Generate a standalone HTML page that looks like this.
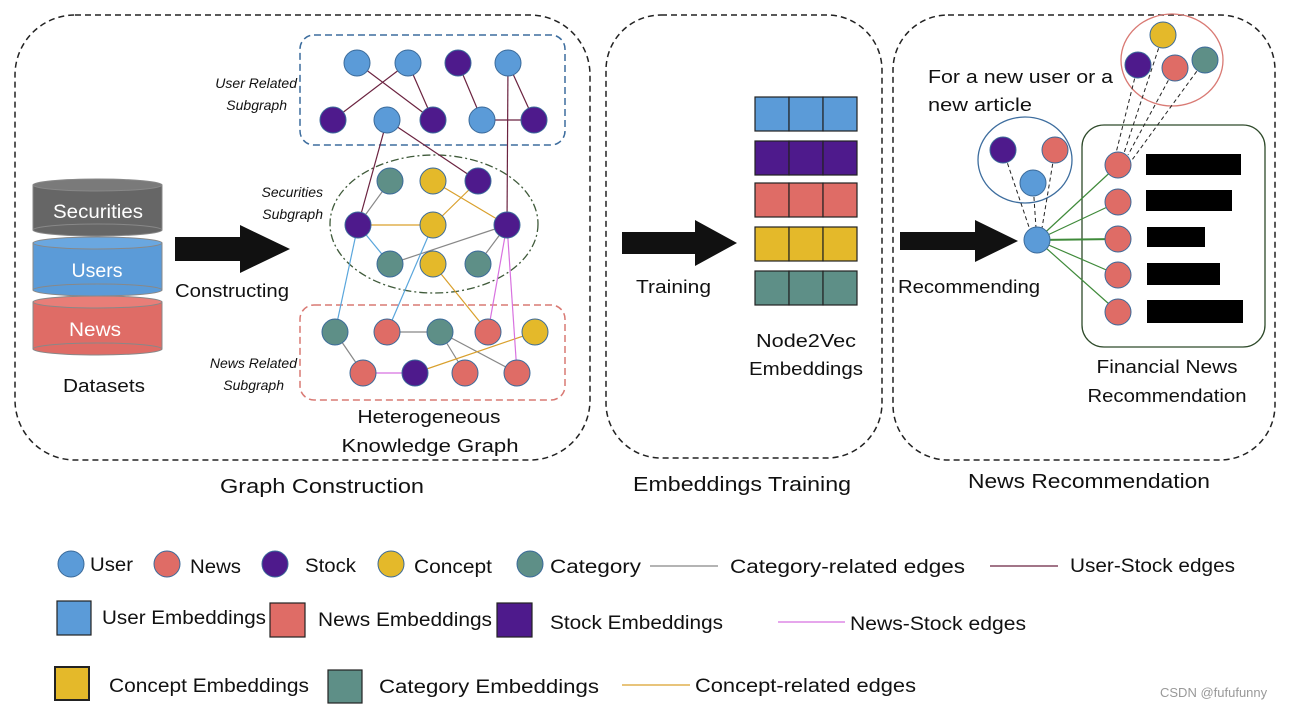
<!DOCTYPE html>
<html><head><meta charset="utf-8"><style>
body{margin:0;background:#fff}
svg{display:block}
text{font-family:"Liberation Sans","DejaVu Sans",sans-serif;fill:#111}
.it{font-style:italic;font-size:14px}
</style></head><body>
<svg width="1293" height="709" viewBox="0 0 1293 709" xmlns="http://www.w3.org/2000/svg">
<g fill="none" stroke="#222" stroke-width="1.5" stroke-dasharray="6,4">
<rect x="15" y="15" width="575" height="445" rx="60"/>
<rect x="606" y="15" width="276" height="443" rx="55"/>
<rect x="893" y="15" width="382" height="445" rx="55"/>
</g>
<rect x="300" y="35" width="265" height="110" rx="14" fill="none" stroke="#3d6d9e" stroke-width="1.5" stroke-dasharray="7,4"/>
<ellipse cx="434" cy="224" rx="104" ry="69" fill="none" stroke="#3f5a3a" stroke-width="1.3" stroke-dasharray="8,3,2,3"/>
<rect x="300" y="305" width="265" height="95" rx="14" fill="none" stroke="#d97a74" stroke-width="1.5" stroke-dasharray="7,4"/>

<g stroke="#888" stroke-width="1">
<rect x="33" y="185" width="129" height="45" fill="#666"/><ellipse cx="97.5" cy="185" rx="64.5" ry="6" fill="#7a7a7a"/><ellipse cx="97.5" cy="230" rx="64.5" ry="6" fill="#666"/>
<rect x="33" y="243" width="129" height="47" fill="#5b9bd8"/><ellipse cx="97.5" cy="243" rx="64.5" ry="6" fill="#6aa7e0"/><ellipse cx="97.5" cy="290" rx="64.5" ry="6" fill="#5b9bd8"/>
<rect x="33" y="302" width="129" height="47" fill="#df6c66"/><ellipse cx="97.5" cy="302" rx="64.5" ry="6" fill="#e87e78"/><ellipse cx="97.5" cy="349" rx="64.5" ry="6" fill="#df6c66"/>
</g>
<g lengthAdjust="spacingAndGlyphs">
<text x="98" y="218" font-size="19" text-anchor="middle" style="fill:#fff" textLength="90" lengthAdjust="spacingAndGlyphs">Securities</text>
<text x="97" y="277" font-size="19" text-anchor="middle" style="fill:#fff" textLength="51" lengthAdjust="spacingAndGlyphs">Users</text>
<text x="95" y="336" font-size="19" text-anchor="middle" style="fill:#fff" textLength="52" lengthAdjust="spacingAndGlyphs">News</text>
<text x="104" y="392" font-size="18" text-anchor="middle" textLength="82" lengthAdjust="spacingAndGlyphs">Datasets</text>
</g>

<g fill="#111">
<polygon points="175,237 240,237 240,225 290,249 240,273 240,261 175,261"/>
<polygon points="622,232 695,232 695,220 737,243 695,266 695,254 622,254"/>
<polygon points="900,232 975,232 975,220 1018,241 975,262 975,250 900,250"/>
</g>
<text x="175" y="297" font-size="18" textLength="114" lengthAdjust="spacingAndGlyphs">Constructing</text>
<text x="636" y="293" font-size="18" textLength="75" lengthAdjust="spacingAndGlyphs">Training</text>
<text x="898" y="293" font-size="18" textLength="142" lengthAdjust="spacingAndGlyphs">Recommending</text>

<text class="it" x="297" y="88" text-anchor="end">User Related</text>
<text class="it" x="287" y="110" text-anchor="end">Subgraph</text>
<text class="it" x="323" y="197" text-anchor="end">Securities</text>
<text class="it" x="323" y="219" text-anchor="end">Subgraph</text>
<text class="it" x="297" y="368" text-anchor="end">News Related</text>
<text class="it" x="284" y="390" text-anchor="end">Subgraph</text>
<text x="429" y="423" font-size="18" text-anchor="middle" textLength="143" lengthAdjust="spacingAndGlyphs">Heterogeneous</text>
<text x="430" y="452" font-size="18" text-anchor="middle" textLength="177" lengthAdjust="spacingAndGlyphs">Knowledge Graph</text>

<g stroke-width="1.2" fill="none">
<g stroke="#6b2340">
<line x1="408" y1="63" x2="333" y2="120"/><line x1="357" y1="63" x2="433" y2="120"/>
<line x1="408" y1="63" x2="433" y2="120"/><line x1="458" y1="63" x2="482" y2="120"/>
<line x1="508" y1="63" x2="507" y2="225"/><line x1="508" y1="63" x2="534" y2="120"/>
<line x1="482" y1="120" x2="534" y2="120"/><line x1="387" y1="120" x2="358" y2="225"/>
<line x1="387" y1="120" x2="478" y2="181"/>
</g>
<g stroke="#888"><line x1="358" y1="225" x2="390" y2="181"/><line x1="390" y1="264" x2="507" y2="225"/><line x1="478" y1="264" x2="507" y2="225"/>
<line x1="387" y1="332" x2="440" y2="332"/><line x1="335" y1="332" x2="363" y2="373"/><line x1="440" y1="332" x2="465" y2="373"/><line x1="440" y1="332" x2="517" y2="373"/></g>
<g stroke="#d9a02c"><line x1="358" y1="225" x2="433" y2="225"/><line x1="433" y1="225" x2="478" y2="181"/><line x1="433" y1="181" x2="507" y2="225"/><line x1="433" y1="264" x2="488" y2="332"/><line x1="415" y1="373" x2="535" y2="332"/></g>
<g stroke="#5aa6dc"><line x1="358" y1="225" x2="390" y2="264"/><line x1="358" y1="225" x2="335" y2="332"/><line x1="433" y1="225" x2="387" y2="332"/></g>
<g stroke="#d872e0"><line x1="507" y1="225" x2="488" y2="332"/><line x1="507" y1="225" x2="517" y2="373"/><line x1="363" y1="373" x2="415" y2="373"/></g>
</g>

<g stroke="#3a6a9a" stroke-width="1">
<g fill="#5b9bd8"><circle cx="357" cy="63" r="13"/><circle cx="408" cy="63" r="13"/><circle cx="508" cy="63" r="13"/><circle cx="387" cy="120" r="13"/><circle cx="482" cy="120" r="13"/></g>
<g fill="#4e1a8c"><circle cx="458" cy="63" r="13"/><circle cx="333" cy="120" r="13"/><circle cx="433" cy="120" r="13"/><circle cx="534" cy="120" r="13"/>
<circle cx="478" cy="181" r="13"/><circle cx="358" cy="225" r="13"/><circle cx="507" cy="225" r="13"/><circle cx="415" cy="373" r="13"/></g>
<g fill="#5e8f87"><circle cx="390" cy="181" r="13"/><circle cx="390" cy="264" r="13"/><circle cx="478" cy="264" r="13"/><circle cx="335" cy="332" r="13"/><circle cx="440" cy="332" r="13"/></g>
<g fill="#e4b92a"><circle cx="433" cy="181" r="13"/><circle cx="433" cy="225" r="13"/><circle cx="433" cy="264" r="13"/><circle cx="535" cy="332" r="13"/></g>
<g fill="#df6c66"><circle cx="387" cy="332" r="13"/><circle cx="488" cy="332" r="13"/><circle cx="363" cy="373" r="13"/><circle cx="465" cy="373" r="13"/><circle cx="517" cy="373" r="13"/></g>
</g>

<g stroke="#222" stroke-width="1.2">
<g fill="#5b9bd8"><rect x="755" y="97" width="34" height="34"/><rect x="789" y="97" width="34" height="34"/><rect x="823" y="97" width="34" height="34"/></g>
<g fill="#4e1a8c"><rect x="755" y="141" width="34" height="34"/><rect x="789" y="141" width="34" height="34"/><rect x="823" y="141" width="34" height="34"/></g>
<g fill="#df6c66"><rect x="755" y="183" width="34" height="34"/><rect x="789" y="183" width="34" height="34"/><rect x="823" y="183" width="34" height="34"/></g>
<g fill="#e4b92a"><rect x="755" y="227" width="34" height="34"/><rect x="789" y="227" width="34" height="34"/><rect x="823" y="227" width="34" height="34"/></g>
<g fill="#5e8f87"><rect x="755" y="271" width="34" height="34"/><rect x="789" y="271" width="34" height="34"/><rect x="823" y="271" width="34" height="34"/></g>
</g>
<text x="806" y="347" font-size="18" text-anchor="middle" textLength="100" lengthAdjust="spacingAndGlyphs">Node2Vec</text>
<text x="806" y="375" font-size="18" text-anchor="middle" textLength="114" lengthAdjust="spacingAndGlyphs">Embeddings</text>

<text x="928" y="83" font-size="18" textLength="185" lengthAdjust="spacingAndGlyphs">For a new user or a</text>
<text x="928" y="111" font-size="18" textLength="104" lengthAdjust="spacingAndGlyphs">new article</text>
<ellipse cx="1172" cy="60" rx="51" ry="46" fill="none" stroke="#d97a74" stroke-width="1.3"/>
<ellipse cx="1025" cy="160" rx="47" ry="43" fill="none" stroke="#3d6d9e" stroke-width="1.3"/>
<rect x="1082" y="125" width="183" height="222" rx="22" fill="none" stroke="#2e4a2a" stroke-width="1.3"/>
<g stroke="#222" stroke-width="1" stroke-dasharray="4,3">
<line x1="1003" y1="150" x2="1030" y2="230"/><line x1="1033" y1="183" x2="1036" y2="228"/><line x1="1055" y1="150" x2="1042" y2="228"/>
<line x1="1163" y1="35" x2="1124" y2="153"/><line x1="1138" y1="65" x2="1116" y2="153"/><line x1="1175" y1="68" x2="1128" y2="155"/><line x1="1205" y1="60" x2="1132" y2="160"/>
</g>
<g stroke="#3f8a3a" stroke-width="1.2">
<line x1="1037" y1="240" x2="1118" y2="165"/><line x1="1037" y1="240" x2="1118" y2="202"/><line x1="1037" y1="240" x2="1118" y2="239" stroke-width="2"/><line x1="1037" y1="240" x2="1118" y2="275"/><line x1="1037" y1="240" x2="1118" y2="312"/>
</g>
<g stroke="#3a6a9a" stroke-width="1">
<circle cx="1163" cy="35" r="13" fill="#e4b92a"/><circle cx="1138" cy="65" r="13" fill="#4e1a8c"/><circle cx="1175" cy="68" r="13" fill="#df6c66"/><circle cx="1205" cy="60" r="13" fill="#5e8f87"/>
<circle cx="1003" cy="150" r="13" fill="#4e1a8c"/><circle cx="1055" cy="150" r="13" fill="#df6c66"/><circle cx="1033" cy="183" r="13" fill="#5b9bd8"/>
<circle cx="1037" cy="240" r="13" fill="#5b9bd8"/>
<g fill="#df6c66"><circle cx="1118" cy="165" r="13"/><circle cx="1118" cy="202" r="13"/><circle cx="1118" cy="239" r="13"/><circle cx="1118" cy="275" r="13"/><circle cx="1118" cy="312" r="13"/></g>
</g>
<g fill="#000"><rect x="1146" y="154" width="95" height="21"/><rect x="1146" y="190" width="86" height="21"/><rect x="1147" y="227" width="58" height="20"/><rect x="1147" y="263" width="73" height="22"/><rect x="1147" y="300" width="96" height="23"/></g>
<text x="1167" y="373" font-size="18" text-anchor="middle" textLength="141" lengthAdjust="spacingAndGlyphs">Financial News</text>
<text x="1167" y="402" font-size="18" text-anchor="middle" textLength="159" lengthAdjust="spacingAndGlyphs">Recommendation</text>

<text x="322" y="493" font-size="20" text-anchor="middle" textLength="204" lengthAdjust="spacingAndGlyphs">Graph Construction</text>
<text x="742" y="491" font-size="20" text-anchor="middle" textLength="218" lengthAdjust="spacingAndGlyphs">Embeddings Training</text>
<text x="1089" y="488" font-size="20" text-anchor="middle" textLength="242" lengthAdjust="spacingAndGlyphs">News Recommendation</text>

<g stroke="#3a6a9a" stroke-width="1">
<circle cx="71" cy="564" r="13" fill="#5b9bd8"/><circle cx="167" cy="564" r="13" fill="#df6c66"/><circle cx="275" cy="564" r="13" fill="#4e1a8c"/><circle cx="391" cy="564" r="13" fill="#e4b92a"/><circle cx="530" cy="564" r="13" fill="#5e8f87"/>
</g>
<g font-size="19">
<text x="90" y="571" textLength="43" lengthAdjust="spacingAndGlyphs">User</text>
<text x="190" y="573" textLength="51" lengthAdjust="spacingAndGlyphs">News</text>
<text x="305" y="572" textLength="51" lengthAdjust="spacingAndGlyphs">Stock</text>
<text x="414" y="573" textLength="78" lengthAdjust="spacingAndGlyphs">Concept</text>
<text x="550" y="573" textLength="91" lengthAdjust="spacingAndGlyphs">Category</text>
<text x="730" y="573" textLength="235" lengthAdjust="spacingAndGlyphs">Category-related edges</text>
<text x="1070" y="572" textLength="165" lengthAdjust="spacingAndGlyphs">User-Stock edges</text>
<text x="102" y="624" textLength="164" lengthAdjust="spacingAndGlyphs">User Embeddings</text>
<text x="318" y="626" textLength="174" lengthAdjust="spacingAndGlyphs">News Embeddings</text>
<text x="550" y="629" textLength="173" lengthAdjust="spacingAndGlyphs">Stock Embeddings</text>
<text x="850" y="630" textLength="176" lengthAdjust="spacingAndGlyphs">News-Stock edges</text>
<text x="109" y="692" textLength="200" lengthAdjust="spacingAndGlyphs">Concept Embeddings</text>
<text x="379" y="693" textLength="220" lengthAdjust="spacingAndGlyphs">Category  Embeddings</text>
<text x="695" y="692" textLength="221" lengthAdjust="spacingAndGlyphs">Concept-related edges</text>
</g>
<g stroke="#222" stroke-width="1.2">
<rect x="57" y="601" width="34" height="34" fill="#5b9bd8"/><rect x="270" y="603" width="35" height="34" fill="#df6c66"/><rect x="497" y="603" width="35" height="34" fill="#4e1a8c"/>
<rect x="55" y="667" width="34" height="33" fill="#e4b92a" stroke-width="2"/><rect x="328" y="670" width="34" height="33" fill="#5e8f87"/>
</g>
<line x1="650" y1="566" x2="718" y2="566" stroke="#888" stroke-width="1.3"/>
<line x1="990" y1="566" x2="1058" y2="566" stroke="#6b2340" stroke-width="1.3"/>
<line x1="778" y1="622" x2="845" y2="622" stroke="#d872e0" stroke-width="1.3"/>
<line x1="622" y1="685" x2="690" y2="685" stroke="#d9a02c" stroke-width="1.3"/>
<text x="1160" y="697" font-size="13" style="fill:#999">CSDN @fufufunny</text>
</svg>
</body></html>
